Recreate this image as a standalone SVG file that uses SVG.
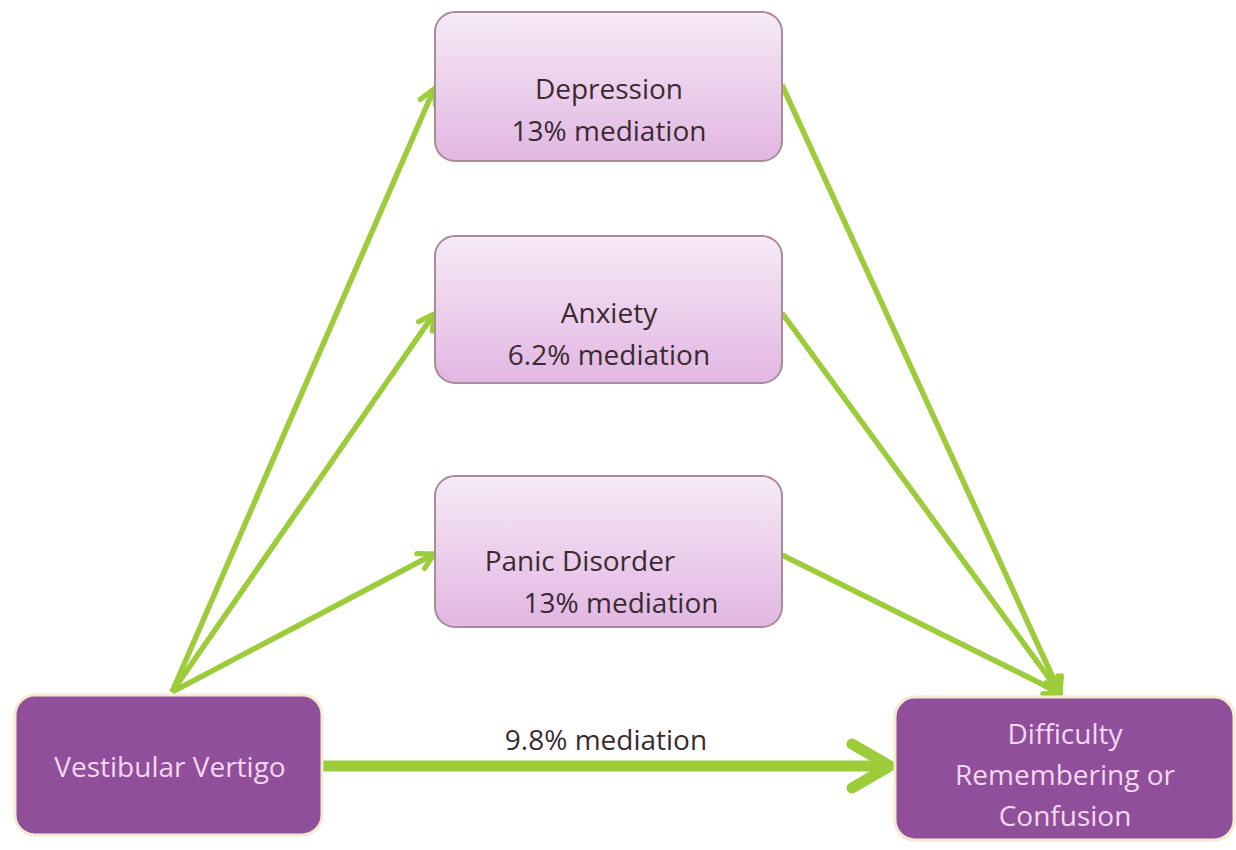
<svg xmlns="http://www.w3.org/2000/svg" width="1236" height="850" viewBox="0 0 1236 850">
<style>
.med{fill:url(#lg);stroke:#a48e98;stroke-width:2}
.dark{fill:#8f4f9b;stroke:#f3ead0;stroke-width:3}
.t{font-family:"Open Sans","Liberation Sans",sans-serif;font-size:28px;text-anchor:middle;fill:#3a2b30}
.tl{font-family:"Open Sans","Liberation Sans",sans-serif;font-size:28px;text-anchor:middle;fill:#f6d6ef}
.c{stroke:#9ccc3a;stroke-width:5.5;fill:none;marker-end:url(#ah)}
.cb{stroke:#9ccc3a;stroke-width:11;fill:none}
.hd{stroke:#9ccc3a;stroke-width:11;fill:none;stroke-linecap:round;stroke-linejoin:miter}
</style>
<defs>
<linearGradient id="lg" x1="0" y1="0" x2="0" y2="1">
<stop offset="0" stop-color="#f6eaf6"/>
<stop offset="1" stop-color="#e2b6e2"/>
</linearGradient>
<marker id="ah" viewBox="0 0 12 12" refX="10.5" refY="6" markerWidth="24" markerHeight="24" orient="auto" markerUnits="userSpaceOnUse">
<path d="M3,1.8 L10.5,6 L3,10.2" fill="none" stroke="#9ccc3a" stroke-width="2.6" stroke-linecap="round"/>
</marker>
</defs>
<rect width="1236" height="850" fill="#ffffff"/>
<g id="connectors">
<line class="c" x1="172" y1="692" x2="434" y2="89"/>
<line class="c" x1="172" y1="692" x2="434" y2="314"/>
<line class="c" x1="172" y1="692" x2="434" y2="554"/>
<line class="c" x1="782" y1="85" x2="1060" y2="693"/>
<line class="c" x1="782" y1="313" x2="1060" y2="693"/>
<line class="c" x1="782" y1="555" x2="1060" y2="693"/>
<line class="cb" x1="322" y1="766" x2="888" y2="766"/>
<polyline class="hd" points="852,744 890,766 852,788"/>
<text class="t" x="606" y="750">9.8% mediation</text>
</g>
<g id="depression">
<rect class="med" x="435" y="12" width="347" height="149" rx="20"/>
<text class="t" x="609" y="99">Depression</text>
<text class="t" x="609" y="141">13% mediation</text>
</g>
<g id="anxiety">
<rect class="med" x="435" y="236" width="347" height="147" rx="20"/>
<text class="t" x="609" y="323">Anxiety</text>
<text class="t" x="609" y="365">6.2% mediation</text>
</g>
<g id="panic">
<rect class="med" x="435" y="476" width="347" height="151" rx="20"/>
<text class="t" x="580" y="571">Panic Disorder</text>
<text class="t" x="621" y="613">13% mediation</text>
</g>
<g id="vertigo">
<rect class="dark" x="15" y="695" width="307" height="140" rx="20"/>
<text class="tl" x="170" y="777">Vestibular Vertigo</text>
</g>
<g id="difficulty">
<rect class="dark" x="895" y="697" width="339" height="143" rx="20"/>
<text class="tl" x="1065" y="744">Difficulty</text>
<text class="tl" x="1065" y="785">Remembering or</text>
<text class="tl" x="1065" y="826">Confusion</text>
</g>
</svg>
